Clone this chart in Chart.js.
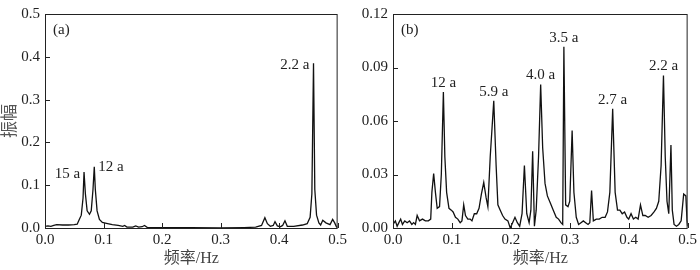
<!DOCTYPE html>
<html>
<head>
<meta charset="utf-8">
<script src="https://cdn.jsdelivr.net/npm/chart.js@4/dist/chart.umd.min.js"></script>
<style>
  html, body { margin: 0; padding: 0; background: #fff; }
  #wrap { position: relative; width: 700px; height: 270px; }
  #wrap canvas { position: absolute; top: 0; }
  #chartA { left: 0; }
  #chartB { left: 350px; }
</style>
</head>
<body>
<div id="wrap">
  <canvas id="chartA" width="350" height="270"></canvas>
  <canvas id="chartB" width="350" height="270"></canvas>
</div>
<script>
// panel (a) spectrum
const freqA = [0.000, 0.005, 0.010, 0.015, 0.020, 0.030, 0.040, 0.050, 0.055, 0.058, 0.062, 0.065, 0.0667, 0.069, 0.072, 0.076,
  0.079, 0.082, 0.0842, 0.086, 0.089, 0.093, 0.098, 0.105, 0.115, 0.125, 0.133, 0.136, 0.140, 0.150, 0.155, 0.160,
  0.166, 0.170, 0.175, 0.190, 0.220, 0.250, 0.300, 0.340, 0.360, 0.370, 0.3757, 0.380, 0.385, 0.390, 0.393, 0.397,
  0.402, 0.406, 0.410, 0.414, 0.425, 0.440, 0.448, 0.453, 0.456, 0.4588, 0.461, 0.464, 0.468, 0.471, 0.4746, 0.480,
  0.487, 0.4915, 0.495, 0.498, 0.500];
const ampA = [0.004, 0.005, 0.004, 0.006, 0.008, 0.007, 0.007, 0.008, 0.009, 0.018, 0.030, 0.070, 0.131, 0.080, 0.040, 0.032,
  0.040, 0.090, 0.143, 0.090, 0.040, 0.020, 0.013, 0.011, 0.008, 0.006, 0.004, 0.006, 0.002, 0.002, 0.005, 0.002,
  0.003, 0.006, 0.001, 0.001, 0.001, 0.001, 0.000, 0.001, 0.002, 0.006, 0.024, 0.010, 0.004, 0.006, 0.015, 0.005,
  0.003, 0.006, 0.017, 0.004, 0.004, 0.007, 0.010, 0.025, 0.080, 0.385, 0.090, 0.030, 0.012, 0.007, 0.018, 0.012,
  0.008, 0.020, 0.012, 0.003, 0.001];

// panel (b) spectrum
const freqB = [0.000, 0.004, 0.007, 0.010, 0.013, 0.016, 0.020, 0.024, 0.028, 0.032, 0.035, 0.038, 0.041, 0.045, 0.050, 0.055,
  0.060, 0.064, 0.066, 0.069, 0.072, 0.075, 0.079, 0.082, 0.0855, 0.088, 0.091, 0.095, 0.099, 0.102, 0.106, 0.110,
  0.114, 0.117, 0.120, 0.123, 0.127, 0.131, 0.134, 0.138, 0.142, 0.146, 0.150, 0.154, 0.158, 0.161, 0.165, 0.171,
  0.175, 0.178, 0.182, 0.186, 0.190, 0.195, 0.199, 0.203, 0.207, 0.211, 0.215, 0.219, 0.223, 0.227, 0.231, 0.234,
  0.237, 0.240, 0.243, 0.247, 0.2506, 0.254, 0.258, 0.262, 0.267, 0.272, 0.277, 0.281, 0.285, 0.288, 0.290, 0.293,
  0.297, 0.300, 0.304, 0.307, 0.311, 0.315, 0.319, 0.323, 0.327, 0.331, 0.334, 0.337, 0.340, 0.345, 0.350, 0.355,
  0.360, 0.364, 0.368, 0.3728, 0.377, 0.381, 0.385, 0.389, 0.393, 0.397, 0.400, 0.404, 0.408, 0.412, 0.416, 0.420,
  0.424, 0.428, 0.433, 0.438, 0.443, 0.447, 0.451, 0.455, 0.459, 0.462, 0.465, 0.468, 0.4717, 0.474, 0.477, 0.481,
  0.485, 0.489, 0.4933, 0.497, 0.499, 0.500];
const ampB = [0.002, 0.004, 0.001, 0.003, 0.005, 0.002, 0.004, 0.003, 0.004, 0.002, 0.003, 0.002, 0.007, 0.004, 0.005, 0.004,
  0.004, 0.005, 0.020, 0.0305, 0.020, 0.011, 0.012, 0.030, 0.0763, 0.040, 0.020, 0.011, 0.010, 0.009, 0.006, 0.005,
  0.003, 0.004, 0.013, 0.007, 0.005, 0.005, 0.004, 0.008, 0.008, 0.011, 0.019, 0.0255, 0.017, 0.012, 0.040, 0.0714,
  0.035, 0.013, 0.010, 0.007, 0.005, 0.004, 0.000, 0.003, 0.006, 0.003, 0.001, 0.008, 0.035, 0.008, 0.003, 0.010,
  0.043, 0.001, 0.010, 0.040, 0.0805, 0.045, 0.025, 0.018, 0.014, 0.010, 0.006, 0.005, 0.003, 0.002, 0.1017, 0.013,
  0.012, 0.015, 0.0547, 0.020, 0.006, 0.002, 0.003, 0.004, 0.003, 0.002, 0.003, 0.021, 0.004, 0.005, 0.005, 0.006,
  0.006, 0.009, 0.020, 0.0668, 0.020, 0.010, 0.010, 0.008, 0.009, 0.006, 0.005, 0.008, 0.005, 0.006, 0.005, 0.013,
  0.007, 0.007, 0.006, 0.007, 0.009, 0.011, 0.015, 0.035, 0.0855, 0.040, 0.015, 0.008, 0.0466, 0.010, 0.002, 0.001,
  0.002, 0.004, 0.019, 0.018, 0.004, 0.001];

// peak labels: text, frequency, amplitude, side of the peak
const peaksA = [
  { text: "15 a", f: 0.0667, a: 0.131, side: "left" },
  { text: "12 a", f: 0.0842, a: 0.143, side: "right" },
  { text: "2.2 a", f: 0.4588, a: 0.385, side: "left" },
];
const peaksB = [
  { text: "12 a", f: 0.0855, a: 0.0763, side: "top" },
  { text: "5.9 a", f: 0.171, a: 0.0714, side: "top" },
  { text: "4.0 a", f: 0.2506, a: 0.0805, side: "top" },
  { text: "3.5 a", f: 0.290, a: 0.1017, side: "top" },
  { text: "2.7 a", f: 0.3728, a: 0.0668, side: "top" },
  { text: "2.2 a", f: 0.459, a: 0.0855, side: "top" },
];

const serif = "'Liberation Serif', 'Times New Roman', 'Noto Sans CJK SC', serif";
const ink = "#222";

// box round the plot, inward ticks, panel tag and peak labels
const framePlugin = {
  id: "frame",
  afterDraw(chart, args, opts) {
    const { ctx, chartArea: ca, scales } = chart;
    ctx.save();
    ctx.strokeStyle = ink;
    ctx.lineWidth = 1;
    ctx.strokeRect(ca.left + 0.5, ca.top + 0.5, ca.right - ca.left - 1, ca.bottom - ca.top);
    ctx.beginPath();
    scales.x.ticks.forEach(t => {
      const px = Math.round(scales.x.getPixelForValue(t.value)) + 0.5;
      ctx.moveTo(px, ca.bottom);
      ctx.lineTo(px, ca.bottom - 5);
    });
    scales.y.ticks.forEach(t => {
      const py = Math.round(scales.y.getPixelForValue(t.value)) + 0.5;
      ctx.moveTo(ca.left, py);
      ctx.lineTo(ca.left + 5, py);
    });
    ctx.stroke();

    ctx.fillStyle = ink;
    ctx.font = "15px " + serif;
    ctx.textBaseline = "middle";
    ctx.textAlign = "left";
    ctx.fillText(opts.tag, ca.left + 8, ca.top + 16);

    opts.peaks.forEach(p => {
      const px = scales.x.getPixelForValue(p.f);
      const py = scales.y.getPixelForValue(p.a);
      if (p.side === "left") {
        ctx.textAlign = "right";
        ctx.fillText(p.text, px - 4, py + 2);
      } else if (p.side === "right") {
        ctx.textAlign = "left";
        ctx.fillText(p.text, px + 4, py);
      } else {
        ctx.textAlign = "center";
        ctx.fillText(p.text, px, py - 9);
      }
    });
    ctx.restore();
  }
};

function makeChart(id, freq, amp, yMax, yStep, yDigits, yWidth, yTitle, tag, peaks, padRight) {
  const points = freq.map((f, i) => ({ x: f, y: amp[i] }));
  return new Chart(document.getElementById(id), {
    type: "line",
    data: {
      datasets: [{
        data: points,
        borderColor: "#111",
        borderWidth: 1.3,
        pointRadius: 0,
        tension: 0,
        fill: false,
      }]
    },
    options: {
      responsive: false,
      animation: false,
      layout: { padding: { top: 10, right: padRight, left: 0, bottom: 0 } },
      plugins: {
        legend: { display: false },
        tooltip: { enabled: false },
        frame: { tag, peaks },
      },
      scales: {
        x: {
          type: "linear",
          min: 0,
          max: 0.5,
          grid: { display: false, drawTicks: false },
          border: { display: false },
          ticks: {
            stepSize: 0.1,
            padding: 3,
            color: ink,
            font: { family: serif, size: 15 },
            callback: v => v.toFixed(1),
          },
          title: {
            display: true,
            text: "频率/Hz",
            color: "#444",
            font: { family: serif, size: 16 },
            padding: { top: 0, bottom: 2 },
          },
          afterFit: s => { s.height = 42; },
        },
        y: {
          min: 0,
          max: yMax,
          grid: { display: false, drawTicks: false },
          border: { display: false },
          ticks: {
            stepSize: yStep,
            padding: 5,
            color: ink,
            font: { family: serif, size: 15 },
            callback: v => v.toFixed(yDigits),
          },
          title: {
            display: !!yTitle,
            text: yTitle,
            color: "#555",
            font: { family: serif, size: 17 },
            padding: { top: 0, bottom: 0 },
          },
          afterFit: s => { s.width = yWidth; },
        }
      }
    },
    plugins: [framePlugin]
  });
}

makeChart("chartA", freqA, ampA, 0.5, 0.1, 1, 45, "振幅", "(a)", peaksA, 10);
makeChart("chartB", freqB, ampB, 0.12, 0.03, 2, 43, "", "(b)", peaksB, 7);
</script>
</body>
</html>
